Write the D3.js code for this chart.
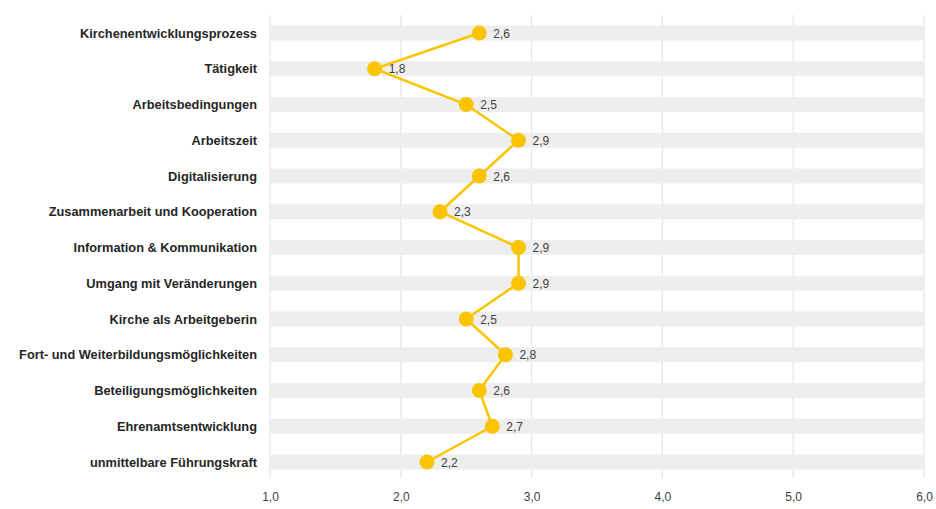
<!DOCTYPE html>
<html><head><meta charset="utf-8">
<script src="https://cdn.jsdelivr.net/npm/d3@7"></script>
<style>body{margin:0;background:#fff}svg{display:block}</style>
</head><body><svg id="c" width="936" height="509"></svg>
<script>
const categories = ["Kirchenentwicklungsprozess","Tätigkeit","Arbeitsbedingungen","Arbeitszeit","Digitalisierung","Zusammenarbeit und Kooperation","Information & Kommunikation","Umgang mit Veränderungen","Kirche als Arbeitgeberin","Fort- und Weiterbildungsmöglichkeiten","Beteiligungsmöglichkeiten","Ehrenamtsentwicklung","unmittelbare Führungskraft"];
const values = [2.6,1.8,2.5,2.9,2.6,2.3,2.9,2.9,2.5,2.8,2.6,2.7,2.2];
const ticks = [1,2,3,4,5,6];

const svg = d3.select("#c");
const x = d3.scaleLinear().domain([1,6]).range([270,924]);
const y = d3.scalePoint().domain(categories).range([33,462]);
const fmt = v => d3.format(".1f")(v).replace(".", ",");
const FONT = "'Liberation Sans', Arial, sans-serif";

// grid
svg.append("g").selectAll("line").data(ticks).join("line")
  .attr("x1", d=>x(d)).attr("x2", d=>x(d)).attr("y1", 15).attr("y2", 478)
  .attr("stroke", "#e6e6e6").attr("stroke-width", 1.3);
// bands
svg.append("g").selectAll("rect").data(categories).join("rect")
  .attr("x", x(1)).attr("width", x(6)-x(1)).attr("y", d=>y(d)-7.5).attr("height", 15)
  .attr("fill", "#eeeeee");
// x axis labels
const xa = d3.axisBottom(x).tickValues(ticks).tickFormat(fmt).tickSize(0).tickPadding(0);
const gx = svg.append("g").attr("transform","translate(0,492)").call(xa);
gx.select(".domain").remove();
gx.selectAll("text").attr("font-family",FONT).attr("font-size",12).attr("fill","#404040");
// y labels
const ya = d3.axisLeft(y).tickSize(0).tickPadding(0);
const gy = svg.append("g").attr("transform","translate(257,0)").call(ya);
gy.select(".domain").remove();
gy.selectAll("text").attr("font-family",FONT).attr("font-size",12.8)
  .attr("font-weight","bold").attr("fill","#262626");
// line
const line = d3.line().x(d=>x(d)).y((d,i)=>y(categories[i]));
svg.append("path").datum(values).attr("d", line).attr("fill","none")
  .attr("stroke","#FAC500").attr("stroke-width",2.5);
svg.append("g").selectAll("circle").data(values).join("circle")
  .attr("cx", d=>x(d)).attr("cy", (d,i)=>y(categories[i])).attr("r", 7.5).attr("fill","#FAC500");
svg.append("g").selectAll("text").data(values).join("text")
  .attr("x", d=>x(d)+14).attr("y", (d,i)=>y(categories[i])+4.5)
  .attr("font-family",FONT).attr("font-size",12)
  .attr("fill","#404040").text(fmt);
</script></body></html>
